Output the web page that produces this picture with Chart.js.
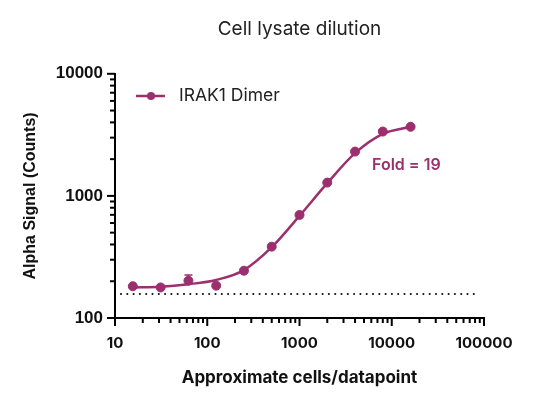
<!DOCTYPE html>
<html>
<head>
<meta charset="utf-8">
<script src="https://cdn.jsdelivr.net/npm/chart.js@4/dist/chart.umd.min.js"></script>
<style>
    html, body { margin: 0; padding: 0; background: #fff; }
    #wrap { width: 540px; height: 406px; }
</style>
</head>
<body>
<div id="wrap"><canvas id="lysateChart" width="540" height="406"></canvas></div>
<script>
// Cells per datapoint (2-fold dilution series)
const cellCounts = [15.6, 31.25, 62.5, 125, 250, 500, 1000, 2000, 4000, 8000, 16000];
// Measured alpha signal (mean) and upper error
const signalMean = [182, 178, 202, 184, 244, 384, 698, 1285, 2307, 3365, 3680];
const signalErrUp = [3, 3, 23, 4, 6, 10, 20, 40, 60, 70, 60];
// Fitted curve read at the same x positions
const fitSignal = [178, 180, 189, 205, 247, 380, 686, 1271, 2239, 3221, 3680];
// Background (dotted line)
const baselineX = [11.6, 86000];
const baselineY = [157, 157];

const xMajorTicks = [10, 100, 1000, 10000, 100000];
const yMajorTicks = [100, 1000, 10000];
const minorSteps = [2, 3, 4, 5, 6, 7, 8, 9];

const seriesName = 'IRAK1 Dimer';
const foldLabel = 'Fold = 19';
const purple = '#9c2f6e';

function buildTicks(majors) {
    const ticks = [];
    majors.forEach(function (m, i) {
        ticks.push({ value: m, major: true });
        if (i < majors.length - 1) {
            minorSteps.forEach(function (s) {
                ticks.push({ value: m * s, major: false });
            });
        }
    });
    return ticks;
}

// Draws tick marks (long for decades, short for minor), error bars, legend and fold text
const extrasPlugin = {
    id: 'extras',
    afterDatasetsDraw(chart) {
        const ctx = chart.ctx;
        const xs = chart.scales.x;
        const ys = chart.scales.y;
        const area = chart.chartArea;

        ctx.save();
        ctx.strokeStyle = '#000';
        ctx.lineWidth = 2;
        xs.ticks.forEach(function (t) {
            const px = xs.getPixelForValue(t.value);
            const len = t.major ? 8 : 5;
            ctx.beginPath();
            ctx.moveTo(px, area.bottom);
            ctx.lineTo(px, area.bottom + len);
            ctx.stroke();
        });
        ys.ticks.forEach(function (t) {
            const py = ys.getPixelForValue(t.value);
            const len = t.major ? 8 : 5;
            ctx.beginPath();
            ctx.moveTo(area.left, py);
            ctx.lineTo(area.left - len, py);
            ctx.stroke();
        });

        // error bars (upper only)
        ctx.strokeStyle = purple;
        ctx.lineWidth = 1.5;
        cellCounts.forEach(function (c, i) {
            const px = xs.getPixelForValue(c);
            const py = ys.getPixelForValue(signalMean[i]);
            const pt = ys.getPixelForValue(signalMean[i] + signalErrUp[i]);
            ctx.beginPath();
            ctx.moveTo(px, py);
            ctx.lineTo(px, pt);
            ctx.moveTo(px - 4, pt);
            ctx.lineTo(px + 4, pt);
            ctx.stroke();
        });

        // legend
        ctx.strokeStyle = purple;
        ctx.lineWidth = 2.5;
        ctx.beginPath();
        ctx.moveTo(136, 96);
        ctx.lineTo(165, 96);
        ctx.stroke();
        ctx.fillStyle = purple;
        ctx.beginPath();
        ctx.arc(151, 96, 4, 0, Math.PI * 2);
        ctx.fill();
        ctx.fillStyle = '#222';
        ctx.font = '17.5px Inter';
        ctx.textBaseline = 'middle';
        ctx.textAlign = 'left';
        ctx.fillText(seriesName, 179, 96);

        // fold annotation
        ctx.fillStyle = purple;
        ctx.font = '600 16px Inter';
        ctx.fillText(foldLabel, 372, 165);
        ctx.restore();
    }
};

const ctx = document.getElementById('lysateChart').getContext('2d');

const lysateChart = new Chart(ctx, {
    type: 'scatter',
    data: {
        datasets: [
            {
                label: 'fit',
                data: cellCounts.map((c, i) => ({ x: c, y: fitSignal[i] })),
                showLine: true,
                borderColor: purple,
                borderWidth: 2.5,
                pointRadius: 0,
                cubicInterpolationMode: 'monotone',
                fill: false
            },
            {
                label: seriesName,
                data: cellCounts.map((c, i) => ({ x: c, y: signalMean[i] })),
                showLine: false,
                backgroundColor: purple,
                borderColor: purple,
                pointRadius: 4.5,
                pointHoverRadius: 4.5
            },
            {
                label: 'baseline',
                data: baselineX.map((x, i) => ({ x: x, y: baselineY[i] })),
                showLine: true,
                borderColor: '#111',
                borderWidth: 2,
                borderDash: [0.1, 6.2],
                borderCapStyle: 'round',
                pointRadius: 0
            }
        ]
    },
    options: {
        responsive: false,
        animation: false,
        layout: { padding: { left: 0, right: 56, top: 0, bottom: 0 } },
        plugins: {
            legend: { display: false },
            tooltip: { enabled: false },
            title: {
                display: true,
                text: 'Cell lysate dilution',
                fullSize: false,
                color: '#222',
                font: { family: 'Inter', size: 19, weight: 'normal' },
                padding: { top: 18, bottom: 33 }
            }
        },
        scales: {
            x: {
                type: 'logarithmic',
                min: 10,
                max: 100000,
                afterBuildTicks: function (scale) { scale.ticks = buildTicks(xMajorTicks); },
                afterFit: function (scale) { scale.height = 88; },
                border: { display: true, color: '#000', width: 2 },
                grid: { drawOnChartArea: false, tickLength: 8, tickColor: 'rgba(0,0,0,0)' },
                ticks: {
                    autoSkip: false,
                    maxRotation: 0,
                    padding: 8,
                    color: '#111',
                    font: { family: 'Inter', size: 15, weight: 'bold' },
                    callback: function (value) {
                        return xMajorTicks.includes(value) ? String(value) : '';
                    }
                },
                title: {
                    display: true,
                    text: 'Approximate cells/datapoint',
                    color: '#111',
                    font: { family: 'Inter', size: 17, weight: 'bold' },
                    padding: { top: 4, bottom: 18 }
                }
            },
            y: {
                type: 'logarithmic',
                min: 100,
                max: 10000,
                afterBuildTicks: function (scale) { scale.ticks = buildTicks(yMajorTicks); },
                afterFit: function (scale) { scale.width = 115; },
                border: { display: true, color: '#000', width: 2 },
                grid: { drawOnChartArea: false, tickLength: 8, tickColor: 'rgba(0,0,0,0)' },
                ticks: {
                    autoSkip: false,
                    padding: 4,
                    color: '#111',
                    font: { family: 'Liberation Sans', size: 17, weight: 'bold' },
                    callback: function (value) {
                        return yMajorTicks.includes(value) ? String(value) : '';
                    }
                },
                title: {
                    display: true,
                    text: 'Alpha Signal (Counts)',
                    color: '#111',
                    font: { family: 'Liberation Sans', size: 16, weight: 'bold' },
                    padding: { top: 21, bottom: 0 }
                }
            }
        }
    },
    plugins: [extrasPlugin]
});
</script>
</body>
</html>
